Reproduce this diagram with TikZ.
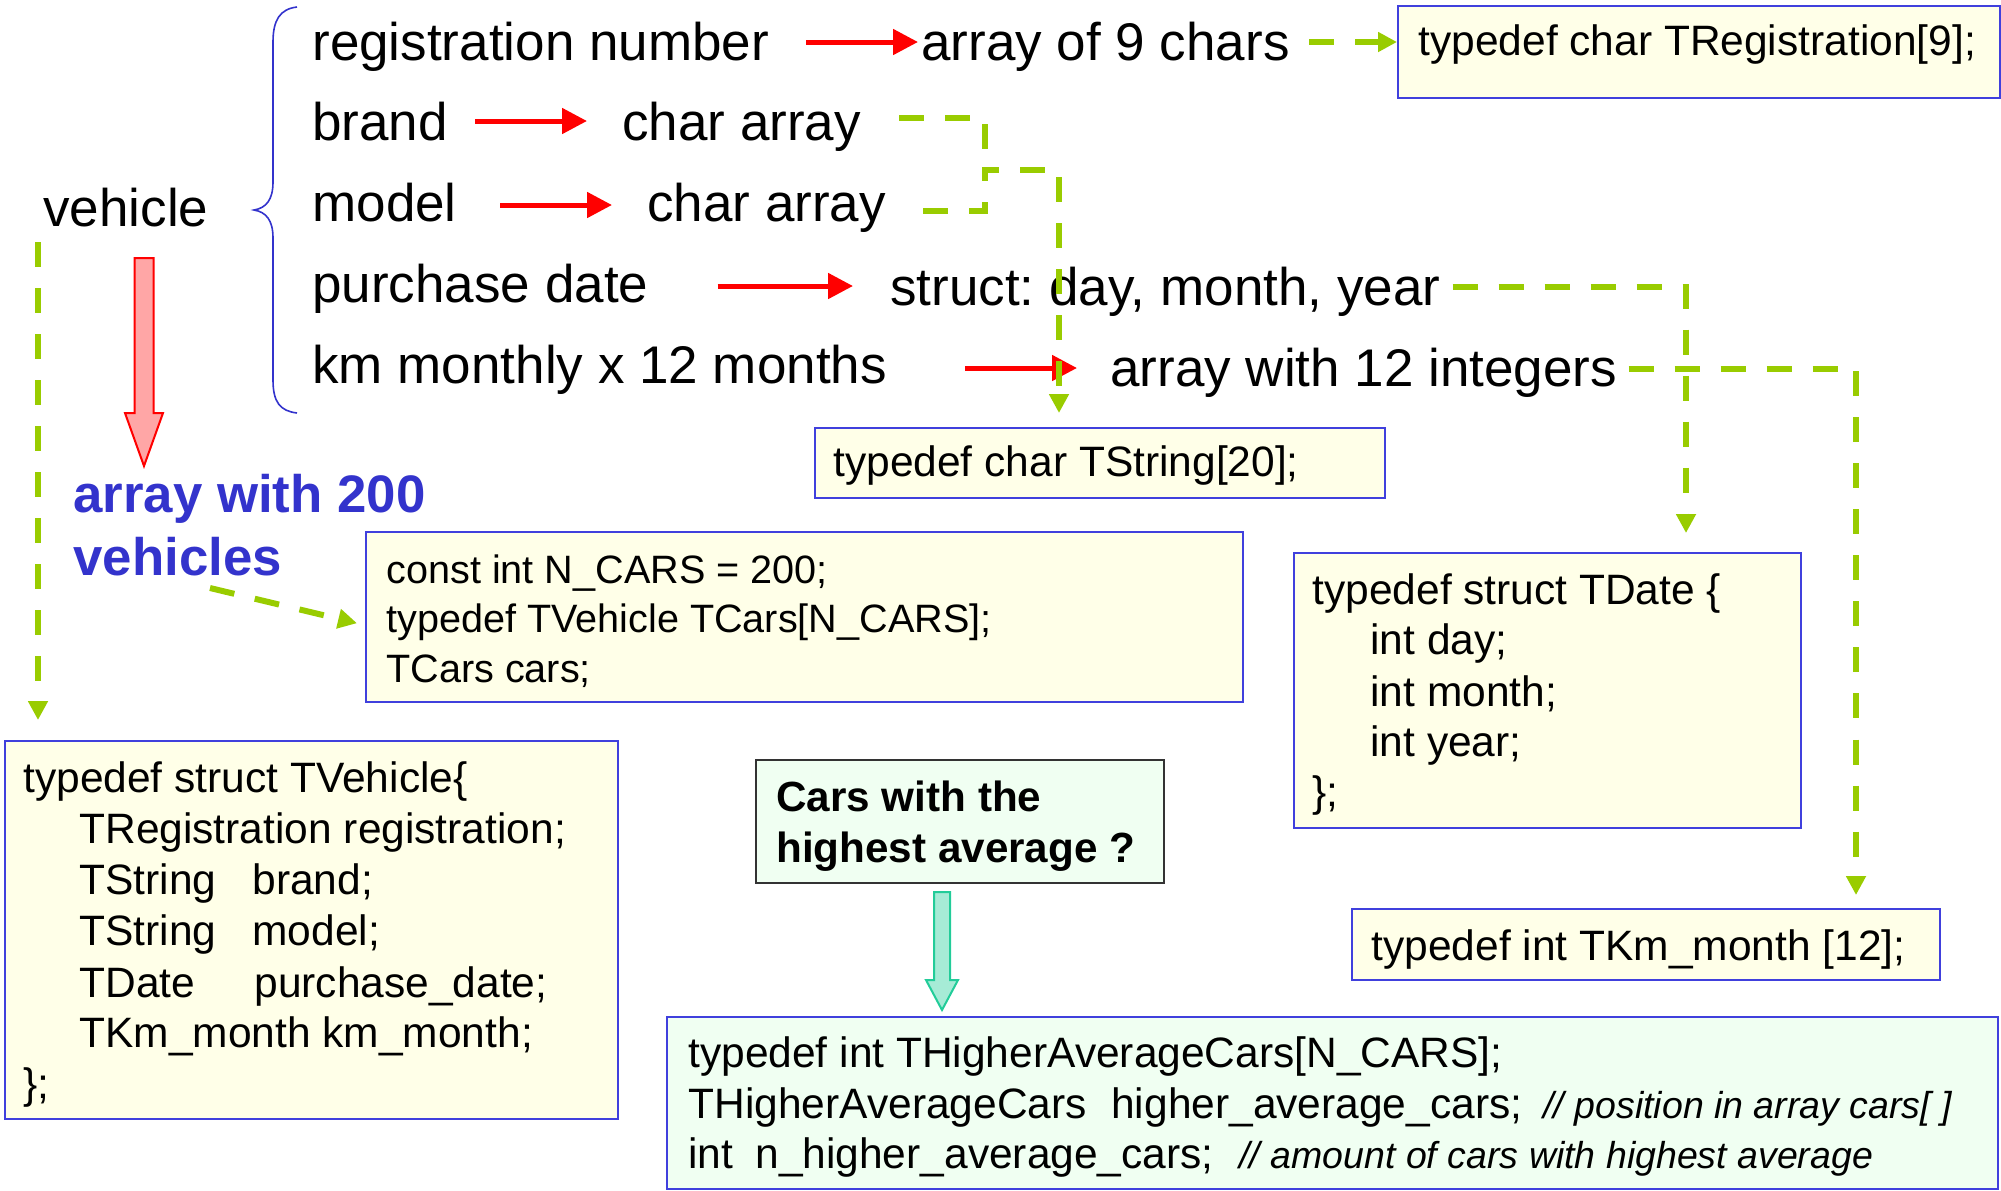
\documentclass[tikz,border=0pt]{standalone}
\usepackage{fontspec}
\setmainfont{Liberation Sans}
\usetikzlibrary{arrows.meta,calc}
\definecolor{boxblue}{HTML}{4040DD}
\definecolor{boxyellow}{HTML}{FFFFE8}
\definecolor{boxgreen}{HTML}{F0FFF2}
\definecolor{dashgreen}{HTML}{99CC00}
\definecolor{txtblue}{HTML}{3333CC}
\definecolor{redfill}{HTML}{FFA6A6}
\definecolor{tealfill}{HTML}{A6EBD6}
\definecolor{tealline}{HTML}{22CC99}
\definecolor{darkline}{HTML}{333333}
\newcommand\Ftop{\fontsize{26.5pt}{32pt}\selectfont}
\newcommand\Fcode{\fontsize{21.25pt}{25pt}\selectfont}
\newcommand\Fconst{\fontsize{19.8pt}{24pt}\selectfont}
\newcommand\Fcomm{\fontsize{18.75pt}{22pt}\selectfont\itshape}
\newcommand\Fblue{\fontsize{26.4pt}{31pt}\selectfont\bfseries}
\newcommand\Fcars{\fontsize{21.1pt}{25pt}\selectfont\bfseries}
\frenchspacing
\begin{document}
\begin{tikzpicture}[x=0.5pt,y=-0.5pt,
  lbl/.style={anchor=base west, inner sep=0pt, font=\Ftop},
  code/.style={anchor=base west, inner sep=0pt, font=\Fcode},
  constcode/.style={anchor=base west, inner sep=0pt, font=\Fconst},
  codebox/.style={draw=boxblue, line width=1.2pt, fill=boxyellow, inner sep=0pt, anchor=north west},
  greenbox/.style={draw=boxblue, line width=1.2pt, fill=boxgreen, inner sep=0pt, anchor=north west},
  carsbox/.style={draw=darkline, line width=1.2pt, fill=boxgreen, inner sep=0pt, anchor=north west},
  redarr/.style={draw=red, line width=2.5pt, -{Triangle[length=12.5pt,width=12.5pt]}},
  greendash/.style={draw=dashgreen, line width=3pt, dash pattern=on 12.5pt off 10.5pt},
  greenarr/.style={greendash, -{Triangle[length=9.5pt,width=9.5pt]}},
  bluetxt/.style={anchor=base west, inner sep=0pt, font=\Fblue, text=txtblue}
]
\useasboundingbox (0,0) rectangle (2001,1190);

% boxes
\node[codebox, minimum width=301pt, minimum height=46pt] (treg) at (1397,5) {};
\node[codebox, minimum width=285pt, minimum height=35pt] (tstr) at (814,427) {};
\node[codebox, minimum width=438.5pt, minimum height=85pt] (const) at (365,531) {};
\node[codebox, minimum width=253.5pt, minimum height=137.5pt] (tdate) at (1293,552) {};
\node[codebox, minimum width=294pt, minimum height=35.5pt] (tkm) at (1351,908) {};
\node[codebox, minimum width=306.5pt, minimum height=189pt] (tveh) at (4,740) {};
\node[carsbox, minimum width=204pt, minimum height=61.5pt] (cars) at (755,759) {};
\node[greenbox, minimum width=665.5pt, minimum height=86pt] (hac) at (666,1016) {};

% top labels
\node[lbl] (regnum) at (312,60) {registration number};
\node[lbl] (arr9) at (921,60) {array of 9 chars};
\node[lbl] (brand) at (312,140) {brand};
\node[lbl] (charA) at (622,140) {char array};
\node[lbl] (vehicle) at (43,226) {vehicle};
\node[lbl] (model) at (312,221) {model};
\node[lbl] (charB) at (647,221) {char array};
\node[lbl] (pdate) at (312,302) {purchase date};
\node[lbl] (struct) at (890,305) {struct: day, month, year};
\node[lbl] (km) at (312,383) {km monthly x 12 months};
\node[lbl] (arr12) at (1110,386) {array with 12 integers};

\node[bluetxt] (arr200a) at (73,512) {array with 200};
\node[bluetxt] (arr200b) at (73,575) {vehicles};

% code texts
\node[code] (tregt) at (1418,55) {typedef char TRegistration[9];};
\node[code] (tstrt) at (833,476) {typedef char TString[20];};
\node[constcode] (c1) at (386,583) {const int N\_CARS = 200;};
\node[constcode] (c2) at (386,632) {typedef TVehicle TCars[N\_CARS];};
\node[constcode] (c3) at (386,682) {TCars cars;};
\node[code] (d1) at (1312,604) {typedef struct TDate \{};
\node[code] (d2) at (1370,654) {int day;};
\node[code] (d3) at (1370,706) {int month;};
\node[code] (d4) at (1370,756) {int year;};
\node[code] (d5) at (1312,806) {\};};
\node[code] (tkmt) at (1371,960) {typedef int TKm\_month [12];};
\node[code] (v1) at (23,792) {typedef struct TVehicle\{};
\node[code] (v2) at (79,843) {TRegistration registration;};
\node[code] (v3) at (79,894) {\makebox[86.5pt][l]{TString}brand;};
\node[code] (v4) at (79,945) {\makebox[86.5pt][l]{TString}model;};
\node[code] (v5) at (79,997) {\makebox[87.5pt][l]{TDate}purchase\_date;};
\node[code] (v6) at (79,1047) {TKm\_month km\_month;};
\node[code] (v7) at (23,1098) {\};};
\node[anchor=base west, inner sep=0pt, font=\Fcars] (q1) at (776,811) {Cars with the};
\node[anchor=base west, inner sep=0pt, font=\Fcars] (q2) at (776,862) {highest average ?};
\node[code] (h1) at (688,1067) {typedef int THigherAverageCars[N\_CARS];};
\node[code] (h2) at (688,1118) {\makebox[211.5pt][l]{THigherAverageCars}\makebox[216pt][l]{higher\_average\_cars;}{\Fcomm // position in array cars[ ]}};
\node[code] (h3) at (688,1168) {\makebox[33.5pt][l]{int}\makebox[242pt][l]{n\_higher\_average\_cars;}{\Fcomm // amount of cars with highest average}};

% brace
\draw[txtblue, line width=0.8pt] (297,7) .. controls (280,9) and (273,20) .. (273,42) -- (273,182)
  .. controls (273,200) and (266,208) .. (254,210) .. controls (266,212) and (273,220) .. (273,238)
  -- (273,380) .. controls (273,402) and (280,411) .. (297,413);

% red arrows
\coordinate (r1) at ($(regnum.base east)+(37,-18)$);
\coordinate (r2) at ($(brand.base east)+(27,-19)$);
\coordinate (r3) at ($(model.base east)+(43,-16)$);
\coordinate (r4) at ($(pdate.base east)+(69,-16)$);
\coordinate (r5) at ($(km.base east)+(78,-15)$);
\draw[redarr] (r1) -- ($(arr9.west |- r1)+(-3,0)$);
\draw[redarr] (r2) -- ($(charA.west |- r2)+(-35,0)$);
\draw[redarr] (r3) -- ($(charB.west |- r3)+(-35,0)$);
\draw[redarr] (r4) -- ($(struct.west |- r4)+(-37,0)$);
\draw[redarr] (r5) -- ($(arr12.west |- r5)+(-33,0)$);

% green dashed connectors
\coordinate (g1) at ($(arr9.base east)+(19,-18)$);
\draw[greenarr] (g1) -- (treg.west |- g1);
\coordinate (g2) at ($(charA.base east)+(38,-22)$);
\coordinate (g3) at ($(charB.base east)+(37,-10)$);
\coordinate (jn) at (985,170);
\coordinate (tsin) at ($(tstr.north west)+(245,-14)$);
\draw[greendash] (g2) -| (jn);
\draw[greenarr] (g3) -| (jn) -| (tsin);
\coordinate (g4) at ($(struct.base east)+(12,-18)$);
\draw[greenarr] (g4) -| ($(tdate.north west)+(393,-19)$);
\coordinate (g5) at ($(arr12.base east)+(11,-17)$);
\draw[greenarr] (g5) -| ($(tkm.north west)+(505,-13)$);
\coordinate (g6) at ($(vehicle.base west)+(-5,16)$);
\draw[greenarr] (g6) -- ($(tveh.north west)+(34,-20)$);
\coordinate (g7) at ($(arr200a.base west)+(137,76)$);
\draw[greenarr] (g7) -- ($(const.west)+(-8,6)$);

% block arrows
\draw[draw=red, fill=redfill, line width=1pt] (134.5,258) -- (153.5,258) -- (153.5,413) -- (163,413)
  -- (144,466) -- (125,413) -- (134.5,413) -- cycle;
\draw[draw=tealline, fill=tealfill, line width=1pt] (934,892) -- (950,892) -- (950,980) -- (958,980)
  -- (942,1010) -- (926,980) -- (934,980) -- cycle;
\end{tikzpicture}
\end{document}
